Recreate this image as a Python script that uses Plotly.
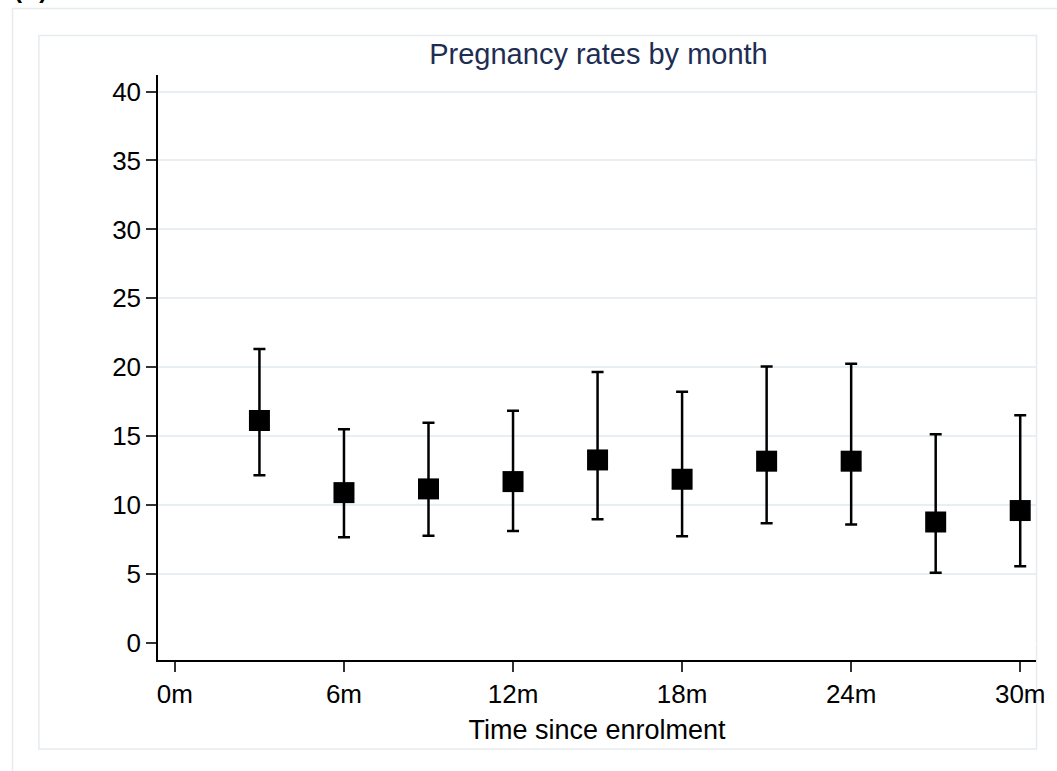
import plotly.graph_objects as go

# Data
months = [3, 6, 9, 12, 15, 18, 21, 24, 27, 30]
rate = [16.14, 10.91, 11.18, 11.71, 13.28, 11.88, 13.19, 13.19, 8.78, 9.61]
upper = [21.32, 15.51, 15.97, 16.84, 19.65, 18.22, 20.06, 20.25, 15.15, 16.53]
lower = [12.17, 7.67, 7.79, 8.13, 8.98, 7.75, 8.69, 8.59, 5.10, 5.57]
x_tickvals = [0, 6, 12, 18, 24, 30]
x_ticktext = ["0m", "6m", "12m", "18m", "24m", "30m"]
y_tickvals = [0, 5, 10, 15, 20, 25, 30, 35, 40]

W, H = 1057, 771
L, R, T, B = 158, 1039, 75, 660
FONT = "Liberation Sans, Arial, sans-serif"

err_plus = [u - r for u, r in zip(upper, rate)]
err_minus = [r - l for r, l in zip(rate, lower)]

fig = go.Figure()
fig.add_trace(go.Scatter(
    x=months, y=rate, mode="markers",
    marker=dict(symbol="square", size=21, color="black"),
    error_y=dict(type="data", array=err_plus, arrayminus=err_minus,
                 color="black", thickness=2.5, width=6),
    showlegend=False,
))

def px2paper_x(px):
    return (px - L) / (R - L)

def px2paper_y(py):
    return (B - py) / (B - T)

shapes = [
    # outer frame
    dict(type="rect", xref="paper", yref="paper",
         x0=px2paper_x(12), x1=px2paper_x(1070), y0=px2paper_y(790), y1=px2paper_y(8.5),
         line=dict(color="#e6ecee", width=1.5), fillcolor="rgba(0,0,0,0)", layer="below"),
    # inner frame
    dict(type="rect", xref="paper", yref="paper",
         x0=px2paper_x(38.5), x1=px2paper_x(1039.5), y0=px2paper_y(749), y1=px2paper_y(35.5),
         line=dict(color="#e6ecee", width=1.5), fillcolor="rgba(0,0,0,0)", layer="below"),
]

fig.update_layout(
    width=W, height=H,
    margin=dict(l=L, r=W - R, t=T, b=H - B, pad=0),
    paper_bgcolor="white", plot_bgcolor="white",
    font=dict(family=FONT, size=26, color="black"),
    title=dict(text="Pregnancy rates by month", x=(L + R) / 2 / W, xanchor="center",
               y=1 - 54 / H, yanchor="middle", yref="container",
               font=dict(family=FONT, size=29, color="#1e2d52")),
    shapes=shapes,
    annotations=[dict(text="<b>(A)</b>", xref="paper", yref="paper",
                      x=px2paper_x(12), y=px2paper_y(5), xanchor="left", yanchor="bottom",
                      showarrow=False, font=dict(family=FONT, size=24, color="black"))],
    xaxis=dict(range=[-0.6, 30.56], tickvals=x_tickvals, ticktext=x_ticktext,
               showgrid=False, zeroline=False, showline=True, linecolor="black", linewidth=1.5,
               ticks="outside", ticklen=10, tickwidth=1.5, tickcolor="#333333",
               tickfont=dict(size=26),
               title=dict(text="Time since enrolment", font=dict(size=27), standoff=12)),
    yaxis=dict(range=[-1.23, 41.2], tickvals=y_tickvals,
               showgrid=True, gridcolor="#e8eff2", gridwidth=2,
               zeroline=True, zerolinecolor="white", zerolinewidth=3,
               showline=True, linecolor="black", linewidth=1.5,
               ticks="outside", ticklen=10, tickwidth=1.5, tickcolor="#333333",
               tickfont=dict(size=26)),
)

fig.write_html("out.html", config={"displayModeBar": False},
               post_script="document.body.style.margin='0';document.body.style.overflow='hidden';")
